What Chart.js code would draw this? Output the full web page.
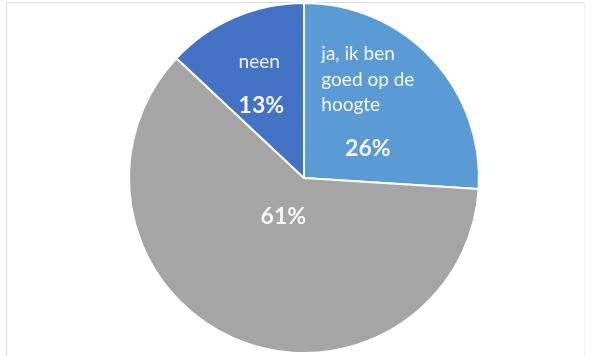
<!DOCTYPE html>
<html>
<head>
<meta charset="utf-8">
<script src="https://cdn.jsdelivr.net/npm/chart.js@4"></script>
<style>
  html, body { margin: 0; padding: 0; background: #fff; }
  #wrap { position: relative; width: 592px; height: 356px; overflow: hidden; }
  #frame { position: absolute; left: 6px; top: 2px; width: 579px; height: 370px;
           border: 1px solid #dcdcdc; border-right-color: #efefef; box-sizing: border-box; }
  canvas { position: absolute; left: 0; top: 0; }
</style>
</head>
<body>
<div id="wrap">
  <div id="frame"></div>
  <canvas id="pie" width="592" height="356"></canvas>
</div>
<script>
// data
var categories = ['ja, ik ben goed op de hoogte', '', 'neen'];
var labelLines = [['ja, ik ben', 'goed op de', 'hoogte'], [], ['neen']];
var shares = [26, 61, 13];
var colors = ['#5b9bd5', '#a5a5a5', '#4472c4'];

// where each label block sits: fraction of radius, angle shift (deg)
var labelPlace = [{r: 0.57, da: -7}, {r: 0.24, da: 6}, {r: 0.59, da: -1}];

var sliceLabels = {
  id: 'sliceLabels',
  afterDatasetsDraw: function (chart) {
    var ctx = chart.ctx;
    var arcs = chart.getDatasetMeta(0).data;
    arcs.forEach(function (arc, i) {
      var p = arc.getProps(['x', 'y', 'startAngle', 'endAngle', 'outerRadius'], true);
      var mid = (p.startAngle + p.endAngle) / 2 + labelPlace[i].da * Math.PI / 180;
      var cx = p.x + Math.cos(mid) * p.outerRadius * labelPlace[i].r;
      var cy = p.y + Math.sin(mid) * p.outerRadius * labelPlace[i].r;
      var lines = labelLines[i];
      var pct = shares[i] + '%';
      ctx.save();
      ctx.fillStyle = '#f7f7f7';
      ctx.textBaseline = 'alphabetic';
      ctx.font = '19px Lato';
      var w = 0;
      lines.forEach(function (l) { w = Math.max(w, ctx.measureText(l).width); });
      ctx.font = 'bold 23px Lato';
      w = Math.max(w, ctx.measureText(pct).width);
      var h = lines.length ? 14 + (lines.length - 1) * 25.5 + 45 : 18;
      var base = cy - h / 2 + 14;
      if (!lines.length) base = cy + 9;
      ctx.font = '19px Lato';
      ctx.textAlign = 'left';
      lines.forEach(function (l, k) {
        ctx.fillText(l, cx - w / 2, base + k * 25.5);
      });
      var pb = lines.length ? base + (lines.length - 1) * 25.5 + 45 : base;
      ctx.font = 'bold 23px Lato';
      ctx.textAlign = 'center';
      ctx.fillText(pct, cx, pb);
      ctx.restore();
    });
  }
};

new Chart(document.getElementById('pie'), {
  type: 'pie',
  data: {
    labels: categories,
    datasets: [{
      data: shares,
      backgroundColor: colors,
      borderColor: '#ffffff',
      borderWidth: 2
    }]
  },
  options: {
    responsive: false,
    animation: false,
    layout: {padding: {left: 16, right: 0, top: 2, bottom: 2}},
    plugins: {legend: {display: false}, tooltip: {enabled: false}}
  },
  plugins: [sliceLabels]
});
</script>
</body>
</html>
